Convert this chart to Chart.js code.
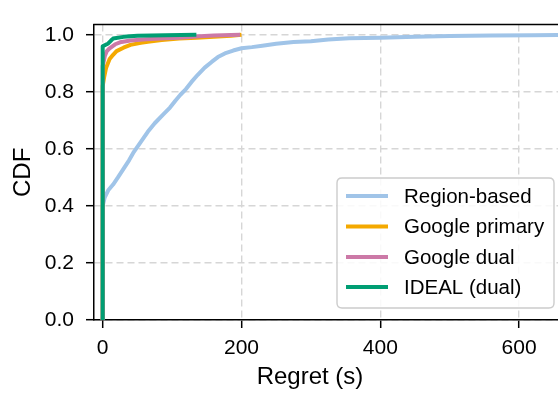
<!DOCTYPE html>
<html>
<head>
<meta charset="utf-8">
<script src="https://cdn.jsdelivr.net/npm/chart.js@4"></script>
<style>
  html, body { margin: 0; padding: 0; background: #fff; overflow: hidden; }
  #wrap { width: 558px; height: 394px; position: relative; }
</style>
</head>
<body>
<div id="wrap"><canvas id="c" width="558" height="394"></canvas></div>
<script>
// ---- data ----
const seriesNames = ["Region-based", "Google primary", "Google dual", "IDEAL (dual)"];
const seriesColors = ["#a0c4e8", "#f4a900", "#cc79a7", "#009e73"];

const regionX = [0, 0, 3, 8, 15, 22, 30, 38, 45, 55, 65, 75, 87, 97, 105, 112, 120, 128, 137, 147, 157, 166, 176, 188, 200, 215, 230, 250, 275, 300, 325, 355, 400, 450, 500, 560, 620, 700];
const regionY = [0, 0.40, 0.43, 0.455, 0.475, 0.50, 0.53, 0.56, 0.59, 0.625, 0.66, 0.69, 0.72, 0.745, 0.77, 0.79, 0.81, 0.835, 0.86, 0.885, 0.905, 0.922, 0.935, 0.945, 0.953, 0.957, 0.962, 0.969, 0.975, 0.978, 0.984, 0.988, 0.990, 0.993, 0.996, 0.998, 0.999, 1.0];

const primaryX = [0, 0, 2, 5, 10, 15, 20, 30, 40, 55, 65, 85, 110, 135, 160, 185, 200];
const primaryY = [0, 0.82, 0.85, 0.885, 0.915, 0.93, 0.943, 0.955, 0.965, 0.972, 0.976, 0.982, 0.987, 0.990, 0.993, 0.997, 1.0];

const dualX = [0, 0, 3, 6, 10, 18, 25, 40, 63, 90, 111, 140, 160, 198];
const dualY = [0, 0.89, 0.925, 0.943, 0.953, 0.967, 0.974, 0.980, 0.985, 0.988, 0.990, 0.995, 0.998, 1.0];

const idealX = [0, 0, 8, 12, 15, 30, 50, 90, 135];
const idealY = [0, 0.96, 0.97, 0.98, 0.987, 0.993, 0.997, 0.999, 1.0];

const xTicks = [0, 200, 400, 600];
const yTicks = [0, 0.2, 0.4, 0.6, 0.8, 1.0];
const xTitle = "Regret (s)";
const yTitle = "CDF";

// ---- build chart ----
const FONT = "'Liberation Sans', Arial, Helvetica, sans-serif";
function pts(xs, ys) { return xs.map((x, i) => ({ x: x, y: ys[i] })); }
const seriesXs = [regionX, primaryX, dualX, idealX];
const seriesYs = [regionY, primaryY, dualY, idealY];
const LW = 4;

const datasets = seriesNames.map((name, i) => ({
  label: name,
  data: pts(seriesXs[i], seriesYs[i]),
  borderColor: seriesColors[i],
  backgroundColor: seriesColors[i],
  borderWidth: LW,
  borderJoinStyle: 'round',
  borderCapStyle: 'butt',
  showLine: true,
  pointRadius: 0,
  pointHoverRadius: 0,
  tension: 0,
  fill: false,
  order: seriesNames.length - i
}));

const decor = {
  id: 'decor',
  afterDatasetsDraw(chart) {
    const ctx = chart.ctx;
    const a = chart.chartArea;
    ctx.save();
    // top spine
    ctx.strokeStyle = '#000';
    ctx.lineWidth = 1.5;
    ctx.beginPath();
    ctx.moveTo(a.left - 0.75, a.top);
    ctx.lineTo(a.right + 2, a.top);
    ctx.stroke();

    // x axis title
    ctx.fillStyle = '#000';
    ctx.font = "24px " + FONT;
    ctx.textAlign = 'center';
    ctx.textBaseline = 'alphabetic';
    ctx.fillText(xTitle, 310, 384);

    // legend
    const bx = 337, by = 178, bw = 217, bh = 130, r = 5;
    ctx.beginPath();
    ctx.moveTo(bx + r, by);
    ctx.lineTo(bx + bw - r, by);
    ctx.quadraticCurveTo(bx + bw, by, bx + bw, by + r);
    ctx.lineTo(bx + bw, by + bh - r);
    ctx.quadraticCurveTo(bx + bw, by + bh, bx + bw - r, by + bh);
    ctx.lineTo(bx + r, by + bh);
    ctx.quadraticCurveTo(bx, by + bh, bx, by + bh - r);
    ctx.lineTo(bx, by + r);
    ctx.quadraticCurveTo(bx, by, bx + r, by);
    ctx.closePath();
    ctx.fillStyle = 'rgba(255,255,255,0.85)';
    ctx.fill();
    ctx.strokeStyle = '#cccccc';
    ctx.lineWidth = 1.4;
    ctx.stroke();

    const rows = [196, 226.5, 257, 287];
    ctx.font = "20.5px " + FONT;
    ctx.textAlign = 'left';
    ctx.textBaseline = 'middle';
    seriesNames.forEach((name, i) => {
      ctx.strokeStyle = seriesColors[i];
      ctx.lineWidth = LW;
      ctx.beginPath();
      ctx.moveTo(346, rows[i]);
      ctx.lineTo(388, rows[i]);
      ctx.stroke();
      ctx.fillStyle = '#000';
      ctx.fillText(name, 404, rows[i] + 1);
    });
    ctx.restore();
  }
};

const gridOpts = {
  color: '#d6d6d6',
  lineWidth: 1.4,
  drawTicks: true,
  tickLength: 8,
  tickColor: '#000',
  tickWidth: 1.5,
  tickBorderDash: []
};

new Chart(document.getElementById('c'), {
  type: 'scatter',
  data: { datasets: datasets },
  options: {
    responsive: false,
    animation: false,
    events: [],
    layout: { padding: { top: 5, right: 0, left: 0, bottom: 0 } },
    plugins: {
      legend: { display: false },
      tooltip: { enabled: false },
      title: { display: false }
    },
    scales: {
      x: {
        type: 'linear',
        min: -12.5,
        max: 656,
        afterBuildTicks: (s) => { s.ticks = xTicks.map(v => ({ value: v })); },
        afterFit: (s) => { s.height = 74; },
        ticks: {
          color: '#000',
          font: { family: FONT, size: 21 },
          padding: 8,
          maxRotation: 0,
          autoSkip: false,
          callback: (v) => String(v)
        },
        grid: gridOpts,
        border: { display: true, color: '#000', width: 1.5, dash: [7, 4] },
        title: { display: false }
      },
      y: {
        type: 'linear',
        min: 0,
        max: 1.036,
        afterBuildTicks: (s) => { s.ticks = yTicks.map(v => ({ value: v })); },
        afterFit: (s) => { s.width = 94; },
        ticks: {
          color: '#000',
          font: { family: FONT, size: 21 },
          padding: 12,
          autoSkip: false,
          callback: (v) => Number(v).toFixed(1)
        },
        grid: gridOpts,
        border: { display: true, color: '#000', width: 1.5, dash: [7, 4] },
        title: {
          display: true,
          text: yTitle,
          color: '#000',
          font: { family: FONT, size: 24 },
          padding: { top: 8.5, bottom: 0 }
        }
      }
    }
  },
  plugins: [decor]
});
</script>
</body>
</html>
